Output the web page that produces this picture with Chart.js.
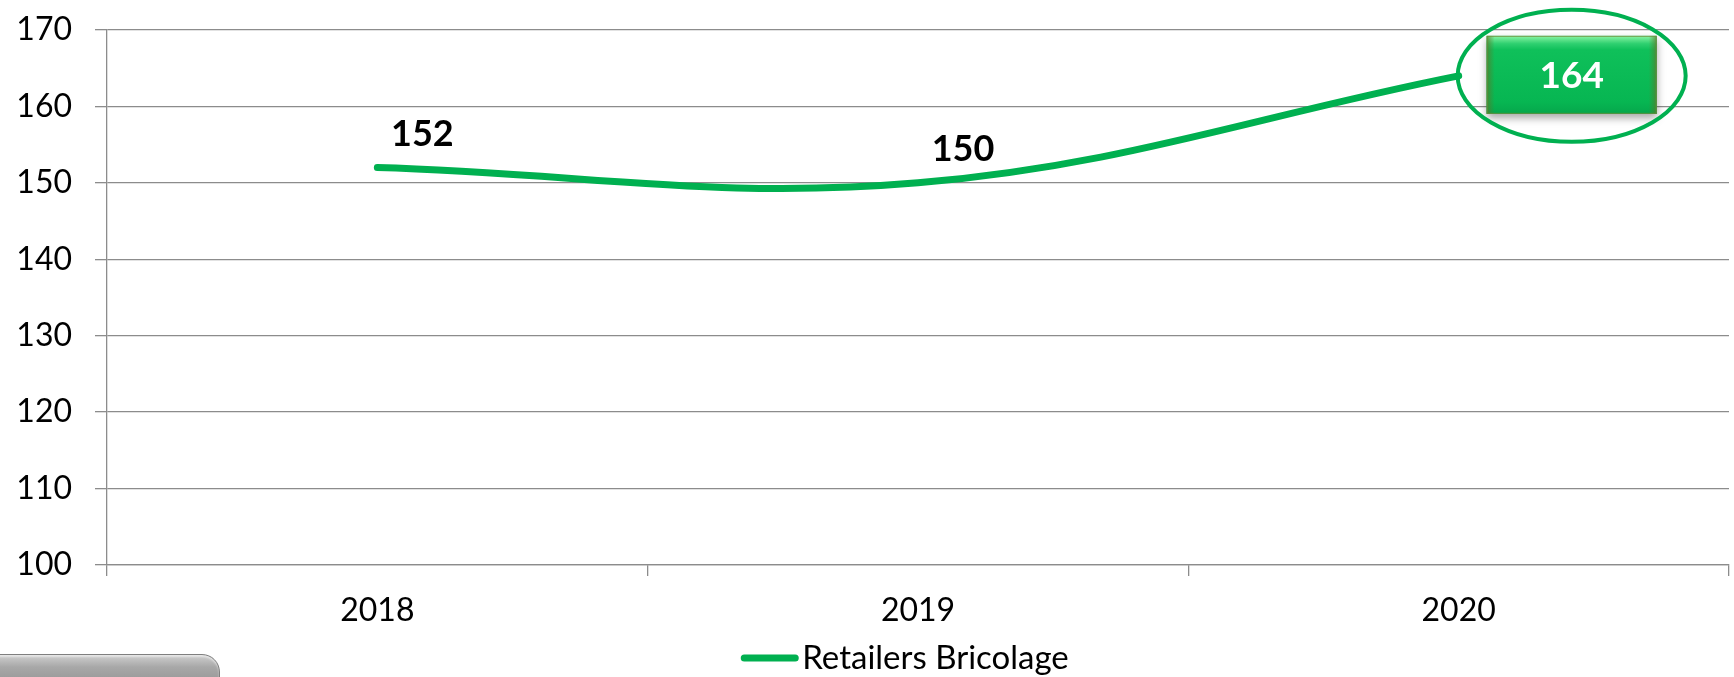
<!DOCTYPE html>
<html>
<head>
<meta charset="utf-8">
<script src="https://cdn.jsdelivr.net/npm/chart.js@4.4.0/dist/chart.umd.min.js"></script>
<style>
  html, body { margin: 0; padding: 0; background: #fff; overflow: hidden; }
  #wrap { position: relative; width: 1734px; height: 677px; }
  #c { position: absolute; left: 0; top: 0; }
  #btn { position: absolute; left: -30px; top: 654px; width: 248px; height: 40px;
         border-radius: 0 18px 0 0; border: 1px solid #7f7f7f;
         background: linear-gradient(to bottom, #cfcfcf 0%, #a8a8a8 30%, #8a8a8a 100%);
         box-shadow: inset 0 2px 2px rgba(255,255,255,0.5); }
</style>
</head>
<body>
<div id="wrap">
  <canvas id="c" width="1734" height="677"></canvas>
  <div id="btn"></div>
</div>
<script>
const categories = ['2018', '2019', '2020'];
const seriesName = 'Retailers Bricolage';
const seriesValues = [152, 150, 164];
const yTicks = [100, 110, 120, 130, 140, 150, 160, 170];

const GREEN = '#00B050';
const GRID = '#8c8c8c';
const FONT = 'Lato, "Open Sans", sans-serif';

const labelPlugin = {
  id: 'valueLabels',
  afterDatasetsDraw(chart) {
    const ctx = chart.ctx;
    const meta = chart.getDatasetMeta(0);
    const data = chart.data.datasets[0].data;
    const last = data.length - 1;
    ctx.save();
    meta.data.forEach((pt, i) => {
      const txt = String(data[i]);
      if (i === last) {
        const cx = pt.x + 113, cy = pt.y - 1;
        const w = 170, h = 78;
        const x0 = cx - w / 2, y0 = cy - h / 2;
        ctx.save();
        ctx.shadowColor = 'rgba(0,0,0,0.35)';
        ctx.shadowBlur = 8;
        ctx.shadowOffsetY = 4;
        ctx.fillStyle = '#0ab855';
        ctx.fillRect(x0, y0, w, h);
        ctx.restore();
        const g = ctx.createLinearGradient(0, y0, 0, y0 + h);
        g.addColorStop(0, '#8cf5a4');
        g.addColorStop(0.1, '#2fd070');
        g.addColorStop(0.18, '#0fc05a');
        g.addColorStop(0.85, '#07b652');
        g.addColorStop(1, '#06a64b');
        ctx.fillStyle = g;
        ctx.fillRect(x0, y0, w, h);
        const gl = ctx.createLinearGradient(x0, 0, x0 + 8, 0);
        gl.addColorStop(0, 'rgba(90,120,40,0.7)');
        gl.addColorStop(1, 'rgba(90,120,40,0)');
        ctx.fillStyle = gl;
        ctx.fillRect(x0, y0, 8, h);
        const gr = ctx.createLinearGradient(x0 + w, 0, x0 + w - 8, 0);
        gr.addColorStop(0, 'rgba(90,120,40,0.7)');
        gr.addColorStop(1, 'rgba(90,120,40,0)');
        ctx.fillStyle = gr;
        ctx.fillRect(x0 + w - 8, y0, 8, h);
        ctx.strokeStyle = 'rgba(110,140,60,0.8)';
        ctx.lineWidth = 1;
        ctx.strokeRect(x0 + 0.5, y0 + 0.5, w - 1, h - 1);
        ctx.fillStyle = '#ffffff';
        ctx.font = 'bold 37px ' + FONT;
        ctx.textAlign = 'center';
        ctx.textBaseline = 'middle';
        ctx.fillText(txt, cx, cy + 1);
        ctx.beginPath();
        ctx.ellipse(cx, cy + 1, 114, 66, 0, 0, Math.PI * 2);
        ctx.strokeStyle = GREEN;
        ctx.lineWidth = 4;
        ctx.stroke();
      } else {
        ctx.fillStyle = '#000000';
        ctx.font = 'bold 36px ' + FONT;
        ctx.textAlign = 'center';
        ctx.textBaseline = 'middle';
        ctx.fillText(txt, pt.x + 45, pt.y - 33);
      }
    });
    ctx.restore();
  }
};

const legendPlugin = {
  id: 'customLegend',
  afterDraw(chart) {
    const ctx = chart.ctx;
    const ds = chart.data.datasets[0];
    ctx.save();
    ctx.font = '33px ' + FONT;
    const tw = ctx.measureText(ds.label).width;
    const lineW = 57, gap = 4;
    const total = lineW + gap + tw;
    const center = (chart.chartArea.left + chart.chartArea.right) / 2 - 13;
    const x = center - total / 2;
    const y = 658;
    ctx.strokeStyle = ds.borderColor;
    ctx.lineWidth = 7;
    ctx.lineCap = 'round';
    ctx.beginPath();
    ctx.moveTo(x + 3, y);
    ctx.lineTo(x + lineW - 3, y);
    ctx.stroke();
    ctx.fillStyle = '#000';
    ctx.textAlign = 'left';
    ctx.textBaseline = 'middle';
    ctx.fillText(ds.label, x + lineW + gap, y);
    ctx.restore();
  }
};

new Chart(document.getElementById('c'), {
  type: 'line',
  data: {
    labels: categories,
    datasets: [{
      label: seriesName,
      data: seriesValues,
      borderColor: GREEN,
      backgroundColor: GREEN,
      borderWidth: 7,
      borderCapStyle: 'round',
      borderJoinStyle: 'round',
      tension: 0.38,
      pointRadius: 0,
      pointHoverRadius: 0,
      fill: false
    }]
  },
  options: {
    responsive: false,
    animation: false,
    events: [],
    layout: { padding: { top: 30, right: 5, left: 0, bottom: 0 } },
    plugins: { legend: { display: false }, tooltip: { enabled: false } },
    scales: {
      x: {
        offset: true,
        grid: { offset: true, drawOnChartArea: false, drawTicks: true, tickLength: 11, color: GRID, lineWidth: 1.3 },
        border: { display: true, color: GRID, width: 1.3 },
        ticks: { color: '#000', font: { family: FONT, size: 32 }, padding: 15, maxRotation: 0 },
        afterFit(scale) { scale.height = 112; scale.paddingLeft = 0; scale.paddingRight = 0; }
      },
      y: {
        min: yTicks[0],
        max: yTicks[yTicks.length - 1],
        afterBuildTicks(scale) { scale.ticks = yTicks.map(v => ({ value: v })); },
        grid: { color: GRID, lineWidth: 1.3, drawTicks: true, tickLength: 12 },
        border: { display: true, color: GRID, width: 1.3 },
        ticks: { color: '#000', font: { family: FONT, size: 32 }, padding: 23 },
        afterFit(scale) { scale.width = 107; scale.paddingTop = 0; scale.paddingBottom = 0; }
      }
    }
  },
  plugins: [labelPlugin, legendPlugin]
});
</script>
</body>
</html>
